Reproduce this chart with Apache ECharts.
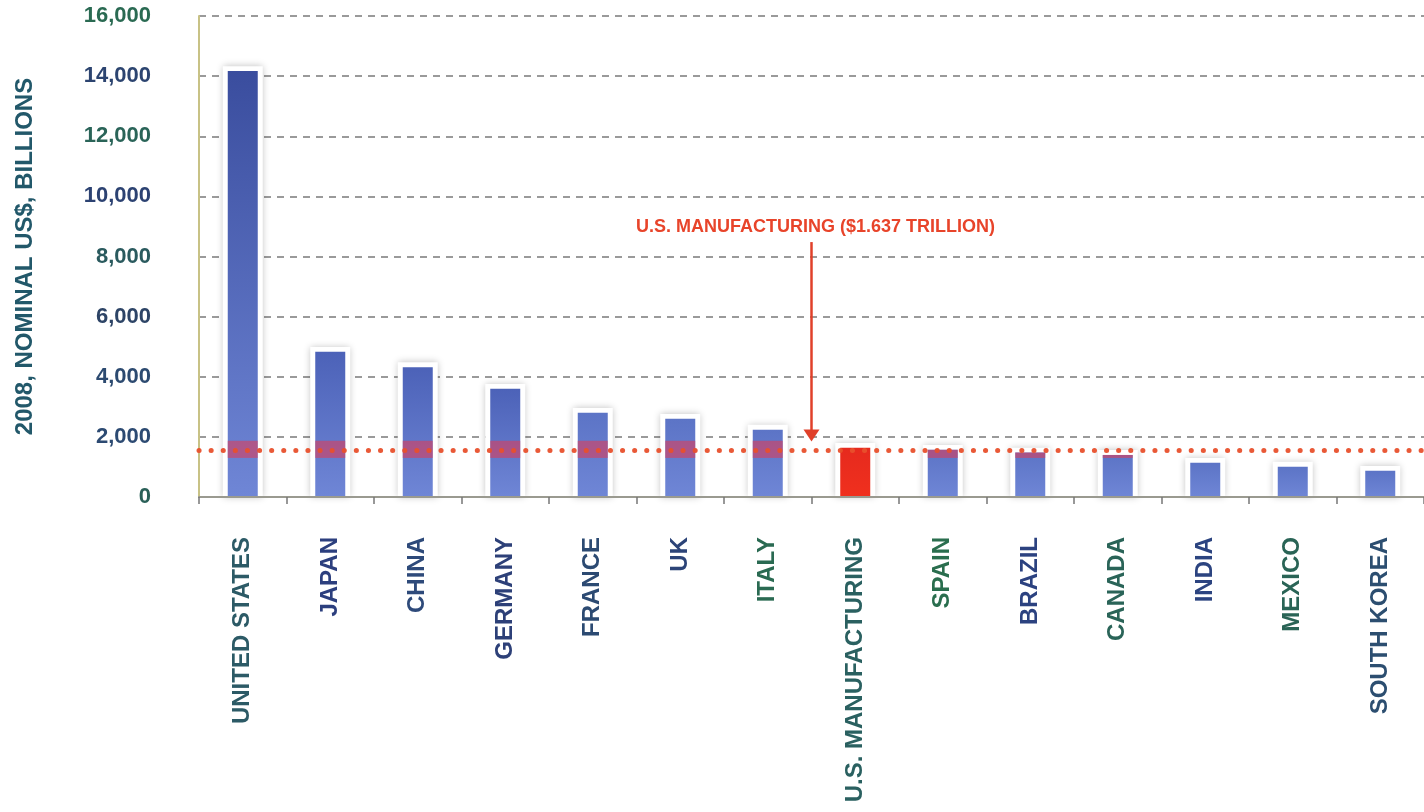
<!DOCTYPE html>
<html>
<head>
<meta charset="utf-8">
<script src="https://cdn.jsdelivr.net/npm/echarts@6/dist/echarts.min.js"></script>
<style>
html,body{margin:0;padding:0;background:#fff;}
#c{width:1424px;height:812px;}
</style>
</head>
<body>
<div id="c"></div>
<script>
var categories = ['UNITED STATES','JAPAN','CHINA','GERMANY','FRANCE','UK','ITALY','U.S. MANUFACTURING','SPAIN','BRAZIL','CANADA','INDIA','MEXICO','SOUTH KOREA'];
var gdpValues = [14170, 4830, 4320, 3600, 2800, 2600, 2240, 1637, 1570, 1480, 1400, 1140, 1010, 870];
var highlightIndex = 7;
var refLineValue = 1545;
var bandLow = 1300, bandHigh = 1870;
var framePad = 160;
var yTicks = [0, 2000, 4000, 6000, 8000, 10000, 12000, 14000, 16000];
var annotationText = 'U.S. MANUFACTURING ($1.637 TRILLION)';
var arrowFrom = 8480, arrowTo = 1850, annotationY = 8980;

var FONT = '"Liberation Sans",Arial,sans-serif';
var labelColors = ['#2c5a66','#2c3f7e','#2e4a7a','#2d4078','#2c4a72','#2c4478','#2a6a52','#2a6060','#2a6e4e','#2c4280','#2a6458','#2c4480','#2a6456','#2c4e70'];
var yTickColors = ['#2a6058','#2c4a72','#2c4a70','#2d4466','#2a5a5e','#2c4272','#2a6458','#2c4470','#2a6a52'];

function barColor(v, i){
  if(i === highlightIndex){
    return new echarts.graphic.LinearGradient(0,0,0,1,[{offset:0,color:'#e62a1e'},{offset:1,color:'#f0301e'}]);
  }
  var t = Math.min(1, v / 14200);
  var top = t > 0.5 ? '#3a4d9e' : (t > 0.2 ? '#4c62b8' : '#5c74c6');
  return new echarts.graphic.LinearGradient(0,0,0,1,[{offset:0,color:top},{offset:1,color:'#6f86d6'}]);
}

var mainData = gdpValues.map(function(v,i){
  return {value:v, itemStyle:{color:barColor(v,i)}};
});
var frameData = gdpValues.map(function(v){ return v + framePad; });
var bandBase = gdpValues.map(function(v,i){ return (i===highlightIndex||v<=bandLow)?0:bandLow; });
var bandVals = gdpValues.map(function(v,i){ return (i===highlightIndex)?0:Math.max(0, Math.min(v,bandHigh)-bandLow); });

var chart = echarts.init(document.getElementById('c'));
var option = {
  backgroundColor:'#ffffff',
  animation:false,
  grid:{left:199, right:0, top:16, bottom:315, containLabel:false, outerBoundsMode:'none'},
  xAxis:[{
    type:'category',
    data:categories,
    axisLine:{lineStyle:{color:'#9a9a90', width:2}},
    axisTick:{show:true, length:7, lineStyle:{color:'#777', width:1.5}},
    axisLabel:{
      rotate:90, margin:40, interval:0,
      fontFamily:FONT, fontWeight:'bold', fontSize:24,
      color:function(v,i){ return labelColors[i]; }
    },
    z:5
  },{
    type:'category', data:categories, show:false, position:'bottom'
  }],
  yAxis:{
    type:'value', min:0, max:16000, interval:2000,
    name:'2008, NOMINAL US$, BILLIONS',
    nameLocation:'middle', nameGap:162, nameRotate:90,
    nameTextStyle:{fontFamily:FONT, fontWeight:'bold', fontSize:24, color:'#22586a'},
    axisLine:{show:true, lineStyle:{color:'#c8c286', width:2}},
    axisTick:{show:false},
    axisLabel:{
      margin:48, fontFamily:FONT, fontWeight:'bold', fontSize:22,
      color:function(v,i){ return yTickColors[yTicks.indexOf(Number(v))] || '#2c4a70'; },
      formatter:function(v){ return v.toLocaleString('en-US'); }
    },
    splitLine:{show:true, lineStyle:{color:'#7a7a7a', width:1.5, type:[7,6]}}
  },
  series:[
    {
      type:'bar', name:'frame', xAxisIndex:1, data:frameData, barWidth:40, z:2, silent:true,
      itemStyle:{color:'#ffffff', shadowBlur:7, shadowColor:'rgba(0,0,0,0.25)'},
      markLine:{
        silent:true, symbol:'none', z:10,
        label:{show:false},
        lineStyle:{color:'#e8502c', width:5, type:[0.1,12], cap:'round', opacity:0.95},
        data:[{yAxis:refLineValue}]
      }
    },
    {
      type:'bar', name:'gdp', xAxisIndex:0, data:mainData, barWidth:30, barGap:'-100%', z:3
    },
    {
      type:'bar', name:'base', xAxisIndex:0, stack:'band', data:bandBase, barWidth:30, barGap:'-100%', z:4,
      itemStyle:{color:'rgba(0,0,0,0)'}, silent:true
    },
    {
      type:'bar', name:'band', xAxisIndex:0, stack:'band', data:bandVals, barWidth:30, z:4,
      itemStyle:{color:'rgba(220,60,90,0.6)'}, silent:true
    }
  ]
};
chart.setOption(option);

var p6 = chart.convertToPixel({xAxisIndex:0}, 6);
var p7 = chart.convertToPixel({xAxisIndex:0}, 7);
var mx = (p6 + p7) / 2;
var yFrom = chart.convertToPixel({yAxisIndex:0}, arrowFrom);
var yTo = chart.convertToPixel({yAxisIndex:0}, arrowTo);
var yText = chart.convertToPixel({yAxisIndex:0}, annotationY);
chart.setOption({
  graphic:[
    {type:'line', z:20, shape:{x1:mx, y1:yFrom, x2:mx, y2:yTo-10}, style:{stroke:'#e0402a', lineWidth:2.5}},
    {type:'polygon', z:20, shape:{points:[[mx-8,yTo-12],[mx+8,yTo-12],[mx,yTo]]}, style:{fill:'#e0402a'}},
    {type:'text', z:20, x:mx+4, y:yText, style:{text:annotationText, fill:'#e8442a', font:'bold 18px '+FONT, textAlign:'center', textVerticalAlign:'middle'}}
  ]
});
</script>
</body>
</html>
